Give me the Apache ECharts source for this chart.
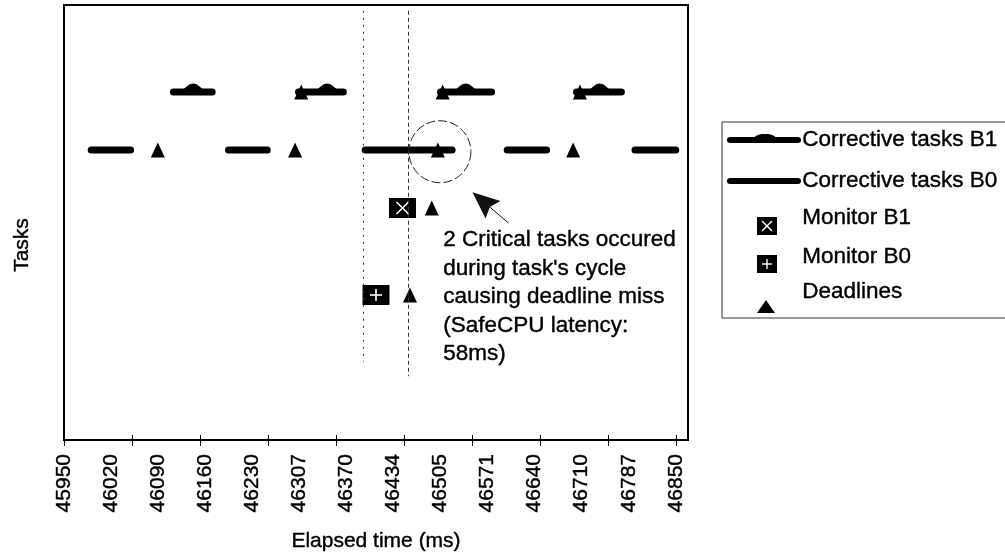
<!DOCTYPE html>
<html>
<head>
<meta charset="utf-8">
<script src="https://cdn.jsdelivr.net/npm/echarts@6/dist/echarts.min.js"></script>
<style>
  html, body { margin: 0; padding: 0; background: #fff; }
  #chart { width: 1005px; height: 553px; }
</style>
</head>
<body>
<div id="chart"></div>
<script>
// Axis tick labels (ms), evenly spaced along the time axis
const tickLabels = ['45950', '46020', '46090', '46160', '46230', '46307', '46370',
                    '46434', '46505', '46571', '46640', '46710', '46787', '46850'];

// Task rows on the vertical axis
const rowB1 = 6;
const rowB0 = 5;
const rowMonB1 = 4;
const rowMonB0 = 2.5;

// Corrective task execution spans [start, end] in ms
const correctiveB0 = [[45990, 46048], [46192, 46249], [46393, 46521], [46602, 46660], [46790, 46850]];
const correctiveB1 = [[46111, 46168], [46295, 46361], [46504, 46579], [46704, 46770]];
// Peak of the B1 execution profile inside each span
const correctiveB1Peaks = [46140, 46337, 46541, 46738];

// Monitor activations [time, row]
const monitorB1 = [[46448, rowMonB1]];
const monitorB0 = [[46409, rowMonB0]];

// Deadlines [time, row]
const deadlines = [[46088, rowB0], [46290, rowB0], [46500, rowB0], [46699, rowB0],
                   [46299, rowB1], [46507, rowB1], [46709, rowB1],
                   [46491, rowMonB1], [46459, rowMonB0]];

// Critical window boundaries (ms)
const criticalWindow = [46390, 46456];

const X_MIN = 45950;
const X_LAST_LABEL = 46850;
const X_MAX = 46868;
const labelStep = (X_LAST_LABEL - X_MIN) / (tickLabels.length - 1);
const labelPositions = tickLabels.map((_, i) => X_MIN + i * labelStep);
const tickPositions = [];
for (let v = X_MIN; v <= X_LAST_LABEL; v += 100) tickPositions.push(v);

const FONT = '"Liberation Sans", Arial, Helvetica, sans-serif';
const HUMP = 'path://M0,10 C4,4 7,0 10,0 C13,0 16,4 20,10 Z';
const ARROW_HEAD = 'path://M10,0 L20,26 L10,22 L0,26 Z';
// Slightly heavier glyph outline for axis text
const AXIS_INK = { textBorderColor: '#000', textBorderWidth: 0.4 };
// Same for free-standing text elements
const INK = { stroke: '#000', lineWidth: 0.4 };

function segmentData(spans, row, peaks) {
  const out = [];
  spans.forEach((s, i) => {
    out.push([s[0], row]);
    if (peaks) {
      out.push({ value: [peaks[i], row], symbol: HUMP, symbolSize: [22, 7], symbolOffset: [0, -5] });
    }
    out.push([s[1], row]);
    out.push(['-', '-']);
  });
  return out;
}

function monitorRenderer(glyph) {
  return function (params, api) {
    const p = api.coord([api.value(0), api.value(1)]);
    const w = 27, h = 20;
    const children = [{
      type: 'rect',
      shape: { x: p[0] - w / 2, y: p[1] - h / 2, width: w, height: h },
      style: { fill: '#000' }
    }];
    const ls = { stroke: '#fff', lineWidth: 1.6 };
    if (glyph === 'x') {
      children.push({ type: 'line', shape: { x1: p[0] - 6, y1: p[1] - 6, x2: p[0] + 6, y2: p[1] + 6 }, style: ls });
      children.push({ type: 'line', shape: { x1: p[0] - 6, y1: p[1] + 6, x2: p[0] + 6, y2: p[1] - 6 }, style: ls });
    } else {
      children.push({ type: 'line', shape: { x1: p[0] - 6, y1: p[1], x2: p[0] + 6, y2: p[1] }, style: ls });
      children.push({ type: 'line', shape: { x1: p[0], y1: p[1] - 6, x2: p[0], y2: p[1] + 6 }, style: ls });
    }
    return { type: 'group', children: children };
  };
}

// Legend drawn as a framed key
function legendIconBox(cx, cy, glyph) {
  const w = 20, h = 18;
  const kids = [{ type: 'rect', shape: { x: cx - w / 2, y: cy - h / 2, width: w, height: h }, style: { fill: '#000' } }];
  const ls = { stroke: '#fff', lineWidth: 1.4 };
  if (glyph === 'x') {
    kids.push({ type: 'line', shape: { x1: cx - 5, y1: cy - 5, x2: cx + 5, y2: cy + 5 }, style: ls });
    kids.push({ type: 'line', shape: { x1: cx - 5, y1: cy + 5, x2: cx + 5, y2: cy - 5 }, style: ls });
  } else {
    kids.push({ type: 'line', shape: { x1: cx - 5, y1: cy, x2: cx + 5, y2: cy }, style: ls });
    kids.push({ type: 'line', shape: { x1: cx, y1: cy - 5, x2: cx, y2: cy + 5 }, style: ls });
  }
  return { type: 'group', children: kids };
}

const legendText = (text, y) => ({
  type: 'text', left: 802, top: y - 12,
  style: Object.assign({ text: text, fill: '#000', font: '22.5px ' + FONT }, INK)
});

const chart = echarts.init(document.getElementById('chart'), null, { renderer: 'canvas' });

chart.setOption({
  animation: false,
  backgroundColor: '#fff',
  grid: {
    left: 64, top: 5, right: 317, bottom: 113,
    outerBoundsMode: 'none',
    containLabel: false,
    show: true, borderColor: '#000', borderWidth: 2, backgroundColor: 'transparent'
  },
  xAxis: [{
    type: 'value',
    min: X_MIN, max: X_MAX,
    position: 'bottom',
    axisLine: { lineStyle: { color: '#000', width: 2 } },
    axisTick: { show: true, customValues: tickPositions, length: 6, lineStyle: { color: '#000', width: 1 } },
    axisLabel: Object.assign({
      customValues: labelPositions,
      rotate: 90, margin: 14,
      color: '#000', fontSize: 21, fontFamily: FONT,
      formatter: v => tickLabels[Math.round((v - X_MIN) / labelStep)]
    }, AXIS_INK),
    splitLine: { show: false },
    name: 'Elapsed time (ms)',
    nameLocation: 'middle', nameGap: 91,
    nameTextStyle: Object.assign({ color: '#000', fontSize: 21, fontFamily: FONT }, AXIS_INK)
  }, {
    type: 'value',
    min: X_MIN, max: X_MAX,
    position: 'bottom',
    axisLine: { show: false },
    axisTick: { show: true, inside: true, customValues: tickPositions, length: 5, lineStyle: { color: '#000', width: 1 } },
    axisLabel: { show: false },
    splitLine: { show: false }
  }],
  yAxis: {
    type: 'value', min: 0, max: 7.5,
    axisLine: { show: true, lineStyle: { color: '#000', width: 2 } },
    axisTick: { show: false },
    axisLabel: { show: false },
    splitLine: { show: false }
  },
  series: [{
    name: 'Deadlines',
    type: 'scatter',
    z: 2,
    symbol: 'triangle',
    symbolSize: [14, 15],
    itemStyle: { color: '#000', opacity: 1 },
    data: deadlines
  }, {
    name: 'Corrective tasks B1',
    type: 'line',
    z: 3,
    symbol: 'none',
    showSymbol: true,
    connectNulls: false,
    lineStyle: { color: '#000', width: 7, cap: 'round' },
    itemStyle: { color: '#000', borderWidth: 0, opacity: 1 },
    data: segmentData(correctiveB1, rowB1, correctiveB1Peaks)
  }, {
    name: 'Corrective tasks B0',
    type: 'line',
    z: 3,
    symbol: 'none',
    connectNulls: false,
    lineStyle: { color: '#000', width: 7, cap: 'round' },
    itemStyle: { color: '#000' },
    data: segmentData(correctiveB0, rowB0, null),
    markLine: {
      silent: true,
      symbol: 'none',
      label: { show: false },
      data: [
        [{ coord: [criticalWindow[0], 7.4], lineStyle: { color: '#333', width: 1, type: [2, 5] } },
         { coord: [criticalWindow[0], 1.35] }],
        [{ coord: [criticalWindow[1], 7.4], lineStyle: { color: '#333', width: 1, type: [4, 3] } },
         { coord: [criticalWindow[1], 1.1] }],
        [{ coord: [46604, 3.74], symbol: 'none', lineStyle: { color: '#111', width: 1, type: 'solid' } },
         { coord: [46566, 4.12], symbol: ARROW_HEAD, symbolSize: [23, 27] }]
      ]
    },
    markPoint: {
      silent: true,
      symbol: 'circle',
      symbolSize: 62,
      label: { show: false },
      itemStyle: { color: 'rgba(0,0,0,0)', borderColor: '#222', borderWidth: 1, borderType: [9, 3] },
      data: [{ coord: [46503, 4.97] }]
    }
  }, {
    name: 'Monitor B1',
    type: 'custom',
    z: 4,
    renderItem: monitorRenderer('x'),
    encode: { x: 0, y: 1 },
    data: monitorB1
  }, {
    name: 'Monitor B0',
    type: 'custom',
    z: 4,
    renderItem: monitorRenderer('plus'),
    encode: { x: 0, y: 1 },
    data: monitorB0
  }],
  graphic: [
    {
      type: 'text', x: 22, y: 245, rotation: Math.PI / 2,
      style: Object.assign({ text: 'Tasks', fill: '#000', font: '21px ' + FONT, align: 'center', verticalAlign: 'middle' }, INK)
    },
    {
      type: 'text', left: 443, top: 226,
      style: Object.assign({
        text: "2 Critical tasks occured\nduring task's cycle\ncausing deadline miss\n(SafeCPU latency:\n58ms)",
        fill: '#000', font: '22.5px ' + FONT, lineHeight: 28.5
      }, INK)
    },
    {
      type: 'group',
      children: [
        { type: 'rect', shape: { x: 722, y: 122, width: 300, height: 196 },
          style: { fill: '#fff', stroke: '#333', lineWidth: 1 } },
        { type: 'line', shape: { x1: 730, y1: 140, x2: 798, y2: 140 },
          style: { stroke: '#000', lineWidth: 6, lineCap: 'round' } },
        { type: 'polygon', shape: { points: [[752, 140], [758, 135], [765, 134], [772, 135], [778, 140]], smooth: 0.4 },
          style: { fill: '#000' } },
        { type: 'line', shape: { x1: 730, y1: 181, x2: 798, y2: 181 },
          style: { stroke: '#000', lineWidth: 6, lineCap: 'round' } },
        legendIconBox(767, 226, 'x'),
        legendIconBox(767, 264, 'plus'),
        { type: 'polygon', shape: { points: [[766, 300], [775, 313], [757, 313]] }, style: { fill: '#000' } },
        legendText('Corrective tasks B1', 140),
        legendText('Corrective tasks B0', 181),
        legendText('Monitor B1', 218),
        legendText('Monitor B0', 257),
        legendText('Deadlines', 292)
      ]
    }
  ]
});
</script>
</body>
</html>
